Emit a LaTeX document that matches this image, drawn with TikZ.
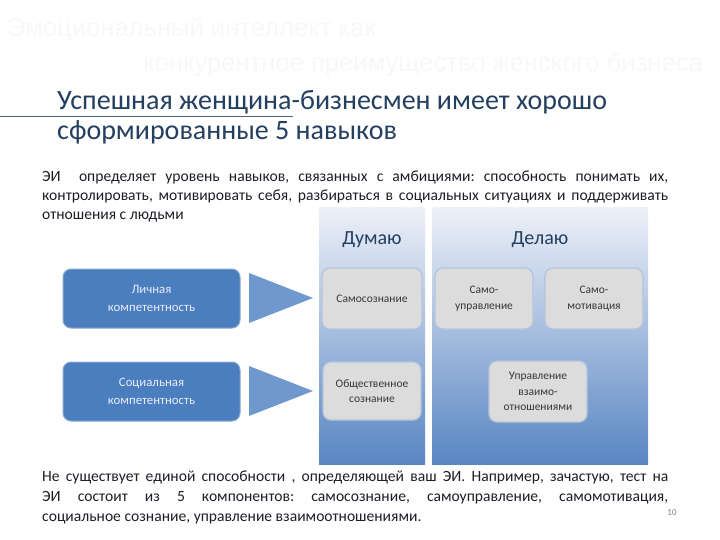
\documentclass[tikz,border=0pt]{standalone}
\usepackage{fontspec}
\setmainfont{Carlito}
\newfontfamily\titlefont{Liberation Sans}
\frenchspacing
\definecolor{headblue}{HTML}{243F60}
\definecolor{bodytext}{HTML}{1E1E28}
\definecolor{colTop}{HTML}{EDF1F8}
\definecolor{colMid}{HTML}{BFD0E8}
\definecolor{colBot}{HTML}{5986C3}
\definecolor{boxGray}{HTML}{DCDCDC}
\definecolor{boxEdge}{HTML}{B5C4DC}
\definecolor{compBlue}{HTML}{4A7EBE}
\definecolor{compEdge}{HTML}{8AA8D4}
\definecolor{triBlue}{HTML}{6F98CE}
\definecolor{faint}{HTML}{F8F8F8}
\tikzset{
  faintTitle/.style={font=\titlefont\fontsize{25.6}{30}\selectfont, text=faint, inner sep=0, anchor=base west},
  heading/.style={font=\fontsize{28}{30}\selectfont, text=headblue, inner sep=0, anchor=base west},
  bodyline/.style={font=\fontsize{15.6}{19}\selectfont, text=bodytext, inner sep=0, anchor=base west},
  colbox/.style={rectangle, inner sep=0, anchor=north west, top color=colTop, middle color=colMid, bottom color=colBot},
  colhead/.style={font=\fontsize{20}{22}\selectfont, text=headblue, inner sep=0},
  skill/.style={rectangle, rounded corners=8pt, fill=boxGray, draw=boxEdge, line width=1.3pt,
    align=center, font=\fontsize{11.5}{15.5}\selectfont, text=black!78, inner sep=2pt},
  comp/.style={rectangle, rounded corners=8pt, fill=compBlue, draw=compEdge, line width=1pt,
    minimum width=177pt, minimum height=59pt, align=center,
    font=\fontsize{12.8}{18}\selectfont, text=white!92!blue},
  arrowtri/.style={fill=triBlue},
  ruleline/.style={draw=headblue!80, line width=0.8pt},
  pagenum/.style={font=\fontsize{9}{10}\selectfont, text=black!50, inner sep=0}
}
\begin{document}
\begin{tikzpicture}[x=1pt,y=-1pt]
\useasboundingbox (0,0) rectangle (720,540);
\fill[white] (0,0) rectangle (720,540);

% faint title
\node[faintTitle] (t1) at (7,37) {Эмоциональный интеллект как};
\node[faintTitle] (t2) at (143,72) {конкурентное преимущество женского бизнеса};

% heading
\node[heading] (h1) at (57,110) {Успешная женщина-бизнесмен имеет хорошо};
\node[heading] (h2) at (57,140) {сформированные 5 навыков};
\coordinate (r0) at (0,116);
\coordinate (r1) at (293,116);
\draw[ruleline] (r0) -- (r1);

% first paragraph
\node[bodyline] (p1) at (42,182) {\hbox to 626pt{ЭИ\ \ определяет уровень навыков, связанных с амбициями: способность понимать их,}};
\node[bodyline] (p2) at (42,201) {\hbox to 626pt{контролировать, мотивировать себя, разбираться в социальных ситуациях и поддерживать}};
\node[bodyline] (p3) at (42,220) {отношения с людьми};

% columns
\node[colbox, minimum width=106pt, minimum height=257pt] (col1) at (319,207) {};
\node[colbox, minimum width=216pt, minimum height=257pt] (col2) at (432,207) {};
\node[colhead] (think) at (372,240) {Думаю};
\node[colhead] (do) at (540,240) {Делаю};

% skill boxes
\node[skill, minimum width=100pt, minimum height=61pt] (s1) at (372,298.5) {Самосознание};
\node[skill, minimum width=98pt, minimum height=61pt] (s2) at (484,298.5) {Само-\\управление};
\node[skill, minimum width=98pt, minimum height=61pt] (s3) at (594,298.5) {Само-\\мотивация};
\node[skill, minimum width=98pt, minimum height=58pt] (s4) at (372,391) {Общественное\\сознание};
\node[skill, minimum width=98pt, minimum height=61pt] (s5) at (538,391.5) {Управление\\взаимо-\\отношениями};

% competence boxes
\node[comp] (c1) at (151.5,298.5) {Личная\\компетентность};
\node[comp] (c2) at (151.5,391.5) {Социальная\\компетентность};

% arrows (triangles)
\coordinate (a1t) at (249,273);
\coordinate (a1p) at (313,298);
\coordinate (a1b) at (249,323);
\fill[arrowtri] (a1t) -- (a1p) -- (a1b) -- cycle;
\coordinate (a2t) at (249,366);
\coordinate (a2p) at (313,391);
\coordinate (a2b) at (249,416);
\fill[arrowtri] (a2t) -- (a2p) -- (a2b) -- cycle;

% bottom paragraph
\node[bodyline] (q1) at (42,481) {\hbox to 626pt{Не существует единой способности , определяющей ваш ЭИ. Например, зачастую, тест на}};
\node[bodyline] (q2) at (42,501) {\hbox to 626pt{ЭИ состоит из 5 компонентов: самосознание, самоуправление, самомотивация,}};
\node[bodyline] (q3) at (42,521) {социальное сознание, управление взаимоотношениями.};
\node[pagenum] (pn) at (672,513) {10};
\end{tikzpicture}
\end{document}
